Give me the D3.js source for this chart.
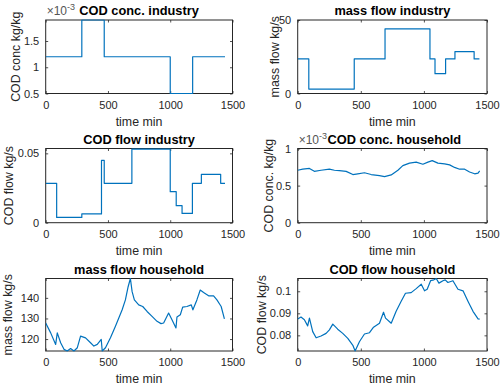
<!DOCTYPE html>
<html>
<head>
<meta charset="utf-8">
<script src="https://cdn.jsdelivr.net/npm/d3@7"></script>
<style>
  html, body { margin: 0; padding: 0; background: #fff; }
  svg { display: block; font-family: "Liberation Sans", Arial, Helvetica, sans-serif; }
</style>
</head>
<body>
<svg id="fig" width="500" height="387"></svg>
<script>
// Shared time axis ticks (minutes)
const timeTicks = [0, 500, 1000, 1500];

// Industry: COD concentration (x1e-3 kg/kg), piecewise constant
const concIndTime = [0, 290, 470, 1000, 1180, 1440];
const concIndVal  = [1.2, 1.9, 1.2, 0.5, 1.2, 1.2];

// Industry: mass flow (kg/s), piecewise constant
const massIndTime = [0, 88, 448, 692, 1048, 1088, 1172, 1246, 1398, 1440];
const massIndVal  = [23.5, 3, 23.5, 44, 23.5, 13.5, 23.5, 28.5, 23.5, 23.5];

// Industry: COD flow (kg/s), piecewise constant
const codIndTime = [0, 88, 290, 448, 470, 692, 1000, 1048, 1095, 1178, 1250, 1405, 1440];
const codIndVal  = [0.0284, 0.0038, 0.0063, 0.045, 0.0284, 0.053, 0.0224, 0.0123, 0.0067, 0.0284, 0.0349, 0.0284, 0.0284];

// Household: COD concentration (x1e-3 kg/kg)
const concHhTime = [0, 40, 93, 132, 185, 251, 291, 331, 384, 437, 476, 529, 582, 648, 688, 741, 794, 833, 886, 939, 992, 1032, 1066, 1111, 1164, 1204, 1243, 1283, 1323, 1362, 1402, 1429, 1442];
const concHhVal  = [0.707, 0.721, 0.731, 0.692, 0.707, 0.721, 0.707, 0.702, 0.692, 0.649, 0.659, 0.673, 0.649, 0.635, 0.620, 0.644, 0.707, 0.769, 0.803, 0.817, 0.788, 0.817, 0.837, 0.803, 0.793, 0.779, 0.745, 0.721, 0.721, 0.683, 0.659, 0.668, 0.697];

// Household: mass flow (kg/s)
const massHhTime = [0, 40, 80, 93, 120, 147, 173, 200, 227, 254, 280, 320, 360, 387, 414, 446, 454, 480, 520, 560, 614, 640, 662, 680, 694, 712, 747, 779, 814, 854, 894, 926, 947, 987, 1014, 1046, 1054, 1081, 1100, 1134, 1169, 1182, 1214, 1241, 1268, 1308, 1348, 1375, 1409, 1435];
const massHhVal  = [127.8, 123, 117.4, 123, 118.2, 115, 114.2, 115.4, 114.2, 115.8, 121.4, 120.6, 118.2, 116.6, 117.4, 119.8, 114.2, 115.8, 120.6, 126.2, 134.2, 139, 145.4, 149.4, 143, 139, 136.6, 135.8, 133.4, 131, 128.6, 127.5, 127.8, 132.6, 129.4, 125.4, 130.7, 131.8, 135.5, 135.8, 136.6, 134.2, 139, 143.8, 142.6, 141, 141, 139, 135.8, 129.8];

// Household: COD flow (kg/s)
const codHhTime = [0, 26, 53, 79, 93, 119, 146, 185, 225, 251, 278, 317, 357, 397, 437, 455, 489, 529, 569, 601, 648, 680, 696, 741, 780, 820, 854, 899, 939, 979, 1005, 1026, 1053, 1079, 1098, 1119, 1151, 1169, 1190, 1230, 1270, 1310, 1349, 1389, 1429, 1442];
const codHhVal  = [0.0874, 0.0883, 0.0871, 0.0843, 0.0878, 0.0817, 0.0789, 0.0797, 0.0809, 0.0825, 0.0851, 0.0828, 0.0809, 0.0786, 0.0755, 0.0729, 0.0771, 0.0806, 0.0812, 0.0837, 0.0855, 0.0905, 0.0878, 0.0855, 0.0909, 0.0955, 0.0991, 0.0994, 0.1012, 0.1032, 0.1002, 0.1009, 0.1048, 0.1052, 0.1058, 0.1037, 0.1048, 0.1052, 0.1040, 0.1048, 0.1009, 0.1002, 0.0955, 0.0909, 0.0875, 0.0874];

const svg = d3.select("#fig");
const lineColor = "#0072BD";
const axColor = "#262626";

const colX = [[45.7, 232.5], [297.7, 487]];
const rowY = [[20, 93.5], [148.5, 222.7], [278.5, 351]];

const panels = [
  { col: 0, row: 0, t: concIndTime, v: concIndVal, step: true, ydom: [0.5, 1.9], yticks: [0.5, 1, 1.5],
    title: "COD conc. industry", ylabel: "COD conc kg/kg", ylabX: 16, exp: true },
  { col: 1, row: 0, t: massIndTime, v: massIndVal, step: true, ydom: [0, 50], yticks: [0, 50],
    title: "mass flow industry", ylabel: "mass flow kg/s", ylabX: 275 },
  { col: 0, row: 1, t: codIndTime, v: codIndVal, step: true, ydom: [0, 0.0535], yticks: [0, 0.05],
    title: "COD flow industry", ylabel: "COD flow kg/s", ylabX: 8.5 },
  { col: 1, row: 1, t: concHhTime, v: concHhVal, step: false, ydom: [0, 1], yticks: [0, 0.5, 1],
    title: "COD conc. household", ylabel: "COD conc. kg/kg", ylabX: 268.5, exp: true },
  { col: 0, row: 2, t: massHhTime, v: massHhVal, step: false, ydom: null, yticks: [120, 130, 140],
    title: "mass flow household", ylabel: "mass flow kg/s", ylabX: 7.7 },
  { col: 1, row: 2, t: codHhTime, v: codHhVal, step: false, ydom: null, yticks: [0.08, 0.09, 0.1],
    title: "COD flow household", ylabel: "COD flow kg/s", ylabX: 261.7 }
];

panels.forEach((p, i) => {
  const [x0, x1] = colX[p.col];
  const [y0, y1] = rowY[p.row];
  const x = d3.scaleLinear().domain([0, 1500]).range([x0, x1]);
  const y = d3.scaleLinear().domain(p.ydom || d3.extent(p.v)).range([y1, y0]);
  const g = svg.append("g");

  // axes with inward ticks on all four sides
  const tl = 2.5;
  const bottom = d3.axisBottom(x).tickValues(timeTicks).tickSize(-tl).tickPadding(5 + tl).tickFormat(d3.format("d"));
  const top = d3.axisTop(x).tickValues(timeTicks).tickSize(-tl).tickFormat("");
  const left = d3.axisLeft(y).tickValues(p.yticks).tickSize(-tl).tickPadding(4 + tl).tickFormat(d => String(d));
  const right = d3.axisRight(y).tickValues(p.yticks).tickSize(-tl).tickFormat("");

  const styleAxis = sel => {
    sel.select(".domain").remove();
    sel.selectAll("line").attr("stroke", axColor).attr("stroke-width", 0.8);
    sel.selectAll("text").attr("fill", axColor).attr("font-size", 11).attr("font-family", null);
  };
  g.append("g").attr("transform", `translate(0,${y1})`).call(bottom).call(styleAxis);
  g.append("g").attr("transform", `translate(0,${y0})`).call(top).call(styleAxis);
  g.append("g").attr("transform", `translate(${x0},0)`).call(left).call(styleAxis);
  g.append("g").attr("transform", `translate(${x1},0)`).call(right).call(styleAxis);

  // box
  g.append("rect").attr("x", x0).attr("y", y0).attr("width", x1 - x0).attr("height", y1 - y0)
    .attr("fill", "none").attr("stroke", axColor).attr("stroke-width", 1);

  // data line, drawn over the box
  const clipId = "clip" + i;
  g.append("clipPath").attr("id", clipId)
    .append("rect").attr("x", x0).attr("y", y0 - 0.8).attr("width", x1 - x0).attr("height", y1 - y0 + 1.6);
  const pts = p.t.map((t, k) => [t, p.v[k]]);
  const line = d3.line().x(d => x(d[0])).y(d => y(d[1]))
    .curve(p.step ? d3.curveStepAfter : d3.curveLinear);
  g.append("path").datum(pts)
    .attr("clip-path", `url(#${clipId})`)
    .attr("d", line)
    .attr("fill", "none")
    .attr("stroke", lineColor)
    .attr("stroke-width", 1.2)
    .attr("stroke-linejoin", "round");

  // title
  g.append("text").attr("x", (x0 + x1) / 2 + (p.exp && p.col === 1 ? 2 : 0)).attr("y", y0 - 5)
    .attr("text-anchor", "middle").attr("font-weight", "bold").attr("font-size", 12.8)
    .attr("fill", "#000").text(p.title);

  // x label
  g.append("text").attr("x", (x0 + x1) / 2).attr("y", y1 + 32)
    .attr("text-anchor", "middle").attr("font-size", 12.4).attr("fill", axColor).text("time min");

  // y label
  g.append("text")
    .attr("transform", `translate(${p.ylabX},${(y0 + y1) / 2}) rotate(-90)`)
    .attr("dy", "0.35em")
    .attr("text-anchor", "middle").attr("font-size", 12.4).attr("fill", axColor).text(p.ylabel);

  // exponent marker
  if (p.exp) {
    const t = g.append("text").attr("x", x0 + 1).attr("y", y0 - 5)
      .attr("font-size", 12).attr("fill", "#555");
    t.append("tspan").text("\u00d710");
    t.append("tspan").attr("font-size", 9).attr("dy", -5).text("-3");
  }
});
</script>
</body>
</html>
